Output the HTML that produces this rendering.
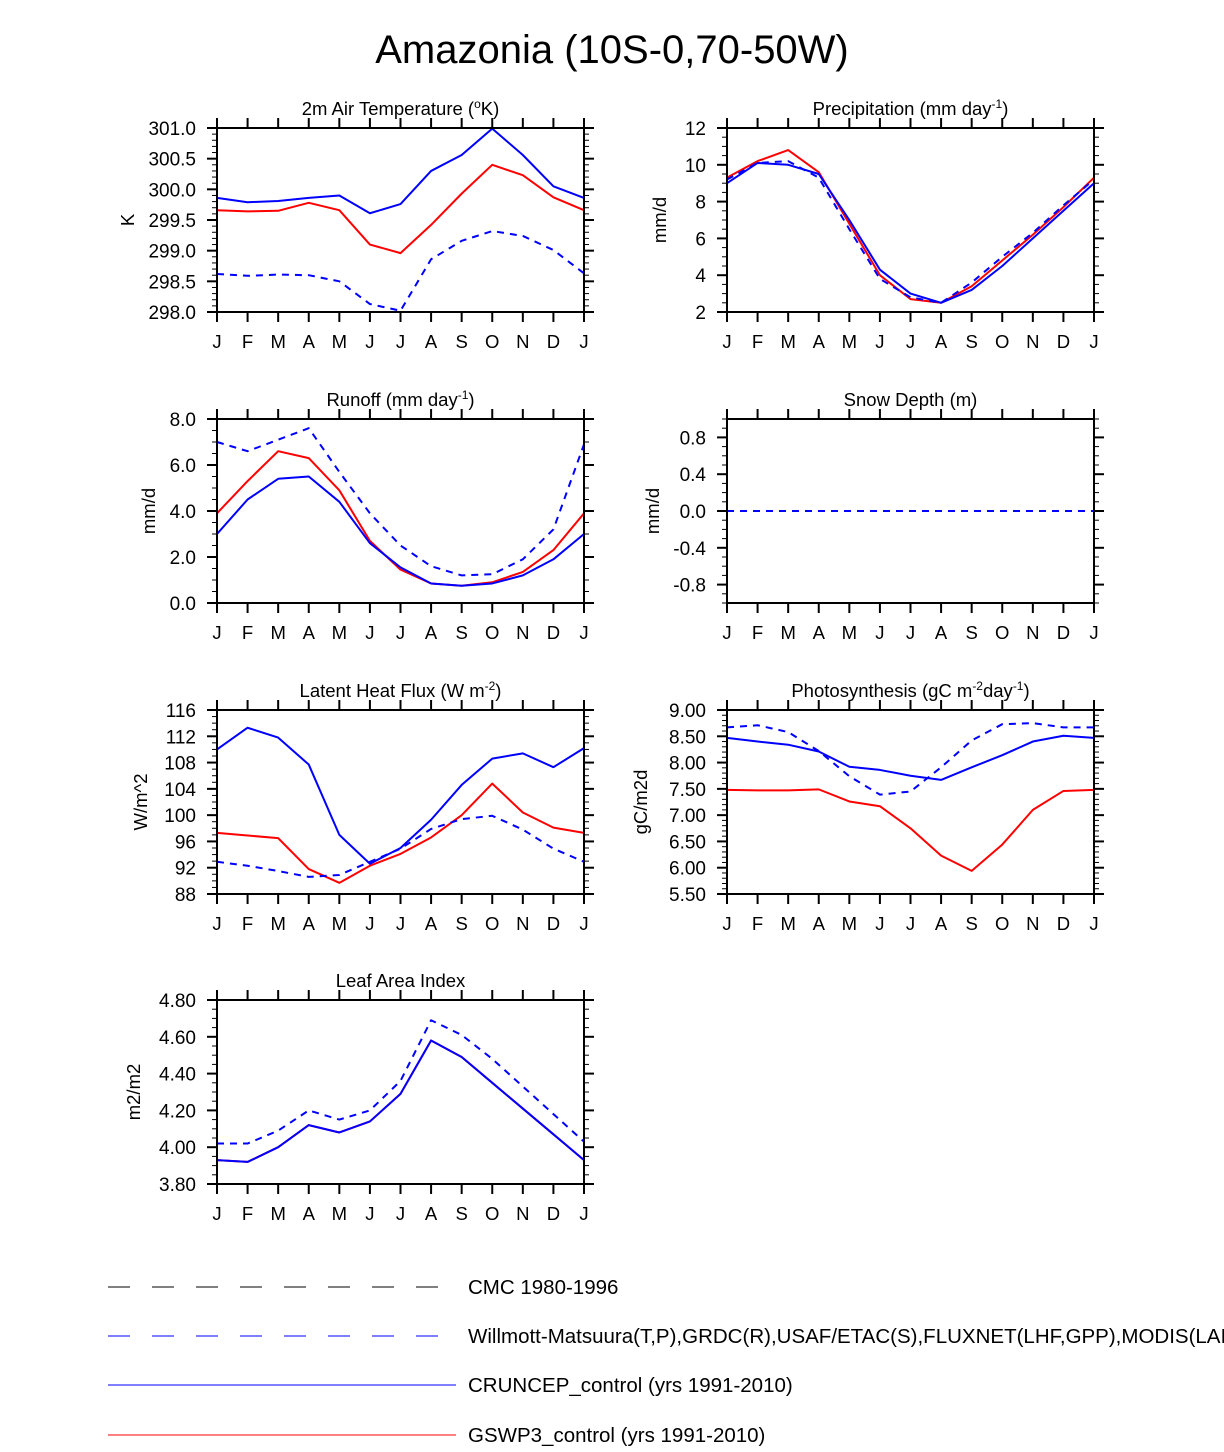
<!DOCTYPE html>
<html><head><meta charset="utf-8">
<style>
html,body{margin:0;padding:0;background:#fff;}
svg text{font-family:"Liberation Sans",Arial,sans-serif;fill:#000;}
</style></head>
<body>
<svg id="chart" width="1224" height="1447" viewBox="0 0 1224 1447" xmlns="http://www.w3.org/2000/svg">
<text x="612" y="63" font-size="40" text-anchor="middle">Amazonia (10S-0,70-50W)</text>
<g>
<line x1="108" y1="1287" x2="456" y2="1287" stroke="#000" stroke-width="1" stroke-dasharray="22,22"/>
<text x="468" y="1294" font-size="20.5">CMC 1980-1996</text>
<line x1="108" y1="1336" x2="456" y2="1336" stroke="#00f" stroke-width="1" stroke-dasharray="22,22"/>
<text x="468" y="1343" font-size="20.5">Willmott-Matsuura(T,P),GRDC(R),USAF/ETAC(S),FLUXNET(LHF,GPP),MODIS(LAI)</text>
<line x1="108" y1="1385" x2="456" y2="1385" stroke="#00f" stroke-width="1"/>
<text x="468" y="1392" font-size="20.5">CRUNCEP_control (yrs 1991-2010)</text>
<line x1="108" y1="1435" x2="456" y2="1435" stroke="#f00" stroke-width="1"/>
<text x="468" y="1442" font-size="20.5">GSWP3_control (yrs 1991-2010)</text>
</g>
</svg>
<script>
var months = ["J","F","M","A","M","J","J","A","S","O","N","D","J"];

var tsaObs = [298.62,298.59,298.61,298.60,298.50,298.13,298.02,298.86,299.16,299.32,299.24,299.01,298.63];
var tsaCru = [299.86,299.79,299.81,299.86,299.90,299.61,299.76,300.30,300.56,300.99,300.56,300.05,299.86];
var tsaGsw = [299.66,299.64,299.65,299.78,299.66,299.10,298.96,299.42,299.93,300.40,300.23,299.87,299.66];
var tsaTicks = ["298.0","298.5","299.0","299.5","300.0","300.5","301.0"];

var preObs = [9.2,10.1,10.2,9.3,6.5,3.8,2.8,2.5,3.6,5.0,6.3,7.8,9.2];
var preCru = [9.0,10.1,10.0,9.5,7.0,4.3,3.0,2.5,3.2,4.5,6.0,7.5,9.0];
var preGsw = [9.3,10.2,10.8,9.6,6.8,4.0,2.7,2.5,3.4,4.8,6.2,7.7,9.3];
var preTicks = ["2","4","6","8","10","12"];

var rofObs = [7.0,6.6,7.1,7.6,5.7,3.9,2.5,1.6,1.2,1.25,1.9,3.2,6.9];
var rofCru = [3.0,4.5,5.4,5.5,4.4,2.6,1.55,0.85,0.75,0.85,1.2,1.9,3.0];
var rofGsw = [3.9,5.3,6.6,6.3,4.9,2.7,1.45,0.85,0.75,0.9,1.35,2.3,3.9];
var rofTicks = ["0.0","2.0","4.0","6.0","8.0"];

var snoObs = [0,0,0,0,0,0,0,0,0,0,0,0,0];
var snoCru = [0,0,0,0,0,0,0,0,0,0,0,0,0];
var snoGsw = [0,0,0,0,0,0,0,0,0,0,0,0,0];
var snoTicks = ["-0.8","-0.4","0.0","0.4","0.8"];

var lhfObs = [92.9,92.3,91.5,90.6,90.9,92.9,94.9,97.9,99.4,99.9,97.8,94.9,92.9];
var lhfCru = [110,113.3,111.8,107.7,97,92.6,95,99.3,104.6,108.6,109.4,107.3,110.2];
var lhfGsw = [97.3,96.9,96.5,91.8,89.7,92.3,94.1,96.6,100,104.8,100.4,98.1,97.3];
var lhfTicks = ["88","92","96","100","104","108","112","116"];

var gppObs = [8.67,8.71,8.58,8.22,7.74,7.39,7.45,7.91,8.42,8.73,8.75,8.67,8.67];
var gppCru = [8.47,8.40,8.34,8.21,7.92,7.86,7.75,7.67,7.91,8.14,8.40,8.51,8.47];
var gppGsw = [7.48,7.47,7.47,7.49,7.26,7.17,6.75,6.23,5.94,6.44,7.10,7.46,7.48];
var gppTicks = ["5.50","6.00","6.50","7.00","7.50","8.00","8.50","9.00"];

var laiObs = [4.02,4.02,4.09,4.20,4.15,4.20,4.36,4.69,4.61,4.48,4.33,4.18,4.03];
var laiCru = [3.93,3.92,4.00,4.12,4.08,4.14,4.29,4.58,4.49,4.35,4.21,4.07,3.93];
var laiGsw = [3.93,3.92,4.00,4.12,4.08,4.14,4.29,4.58,4.49,4.35,4.21,4.07,3.93];
var laiTicks = ["3.80","4.00","4.20","4.40","4.60","4.80"];

var NS = "http://www.w3.org/2000/svg";
var svg = document.getElementById("chart");
function mk(tag, attrs, parent){
  var e = document.createElementNS(NS, tag);
  for (var k in attrs) e.setAttribute(k, attrs[k]);
  (parent||svg).appendChild(e);
  return e;
}

function panel(o){
  var g = mk("g", {});
  
  
  var L=o.x, T=o.y, W=367, H=184, R=L+W, B=T+H;
  var xs = function(i){ return L + i*W/12; };
  var ys = function(v){ return B - (v-o.min)/(o.max-o.min)*H; };
  var nMin = Math.round((o.max-o.min)/o.minor);
  for (var k=0;k<=nMin;k++){
    var yy = ys(o.min + k*o.minor);
    mk("line",{x1:L-5,x2:L,y1:yy,y2:yy,stroke:"#000","stroke-width":1},g);
    mk("line",{x1:R,x2:R+5,y1:yy,y2:yy,stroke:"#000","stroke-width":1},g);
  }
  for (var t=0;t<o.ticks.length;t++){
    var v = parseFloat(o.ticks[t]); var yy = ys(v);
    mk("line",{x1:L-10,x2:L,y1:yy,y2:yy,stroke:"#000","stroke-width":2},g);
    mk("line",{x1:R,x2:R+10,y1:yy,y2:yy,stroke:"#000","stroke-width":2},g);
    var tx = mk("text",{x:L-21,y:yy+7,"font-size":"19","text-anchor":"end"},g);
    tx.textContent = o.ticks[t];
    
    
  }
  for (var i=0;i<13;i++){
    var xx = xs(i);
    mk("line",{x1:xx,x2:xx,y1:B,y2:B+10,stroke:"#000","stroke-width":2},g);
    mk("line",{x1:xx,x2:xx,y1:T-10,y2:T,stroke:"#000","stroke-width":2},g);
    var tx = mk("text",{x:xx,y:B+36,"font-size":"18.5","text-anchor":"middle"},g);
    tx.textContent = months[i];
    
    
  }
  var ti = mk("text",{x:L+W/2,y:T-13,"font-size":"18.5","text-anchor":"middle"},g);
  ti.innerHTML = o.title;
  
  
  var ya = mk("text",{x:0,y:0,"font-size":"18.5","text-anchor":"middle",transform:"translate("+(L-o.yoff)+","+(T+H/2)+") rotate(-90)"},g);
  ya.textContent = o.ylab;
  
  
  var series = [[o.gsw,"#f00",null,"gswp3"],[o.cru,"#00f",null,"cruncep"],[o.obs,"#00f","7,6","obs"]];
  series.forEach(function(s){
    var pts = s[0].map(function(v,i){ return xs(i).toFixed(2)+","+ys(v).toFixed(2); }).join(" ");
    var a = {points:pts,fill:"none",stroke:s[1],"stroke-width":2,"stroke-linejoin":"round"};
    if (s[2]) { a["stroke-dasharray"]=s[2]; if (o.name==="snow-depth") a.stroke="#00f"; }
    if (o.name==="snow-depth" && !s[2]) a.stroke="#fff";
    var p = mk("polyline",a,g);
    
    
  });
  mk("rect",{x:L,y:T,width:W,height:H,fill:"none",stroke:"#000","stroke-width":2},g);
}

panel({name:"air-temperature",x:217,y:128,min:298,max:301,minor:0.1,ticks:tsaTicks,obs:tsaObs,cru:tsaCru,gsw:tsaGsw,title:'2m Air Temperature (<tspan font-size="12" dy="-7">o</tspan><tspan dy="7">K)</tspan>',ylab:"K",yoff:83});
panel({name:"precipitation",x:727,y:128,min:2,max:12,minor:0.5,ticks:preTicks,obs:preObs,cru:preCru,gsw:preGsw,title:'Precipitation (mm day<tspan font-size="12" dy="-7">-1</tspan><tspan dy="7">)</tspan>',ylab:"mm/d",yoff:61});
panel({name:"runoff",x:217,y:419,min:0,max:8,minor:0.5,ticks:rofTicks,obs:rofObs,cru:rofCru,gsw:rofGsw,title:'Runoff (mm day<tspan font-size="12" dy="-7">-1</tspan><tspan dy="7">)</tspan>',ylab:"mm/d",yoff:62});
panel({name:"snow-depth",x:727,y:419,min:-1,max:1,minor:0.1,ticks:snoTicks,obs:snoObs,cru:snoCru,gsw:snoGsw,title:'Snow Depth (m)',ylab:"mm/d",yoff:68});
panel({name:"latent-heat-flux",x:217,y:710,min:88,max:116,minor:1,ticks:lhfTicks,obs:lhfObs,cru:lhfCru,gsw:lhfGsw,title:'Latent Heat Flux (W m<tspan font-size="12" dy="-7">-2</tspan><tspan dy="7">)</tspan>',ylab:"W/m^2",yoff:70});
panel({name:"photosynthesis",x:727,y:710,min:5.5,max:9,minor:0.1,ticks:gppTicks,obs:gppObs,cru:gppCru,gsw:gppGsw,title:'Photosynthesis (gC m<tspan font-size="12" dy="-7">-2</tspan><tspan dy="7">day</tspan><tspan font-size="12" dy="-7">-1</tspan><tspan dy="7">)</tspan>',ylab:"gC/m2d",yoff:80});
panel({name:"leaf-area-index",x:217,y:1000,min:3.8,max:4.8,minor:0.05,ticks:laiTicks,obs:laiObs,cru:laiCru,gsw:laiGsw,title:'Leaf Area Index',ylab:"m2/m2",yoff:77});
</script>
</body></html>
